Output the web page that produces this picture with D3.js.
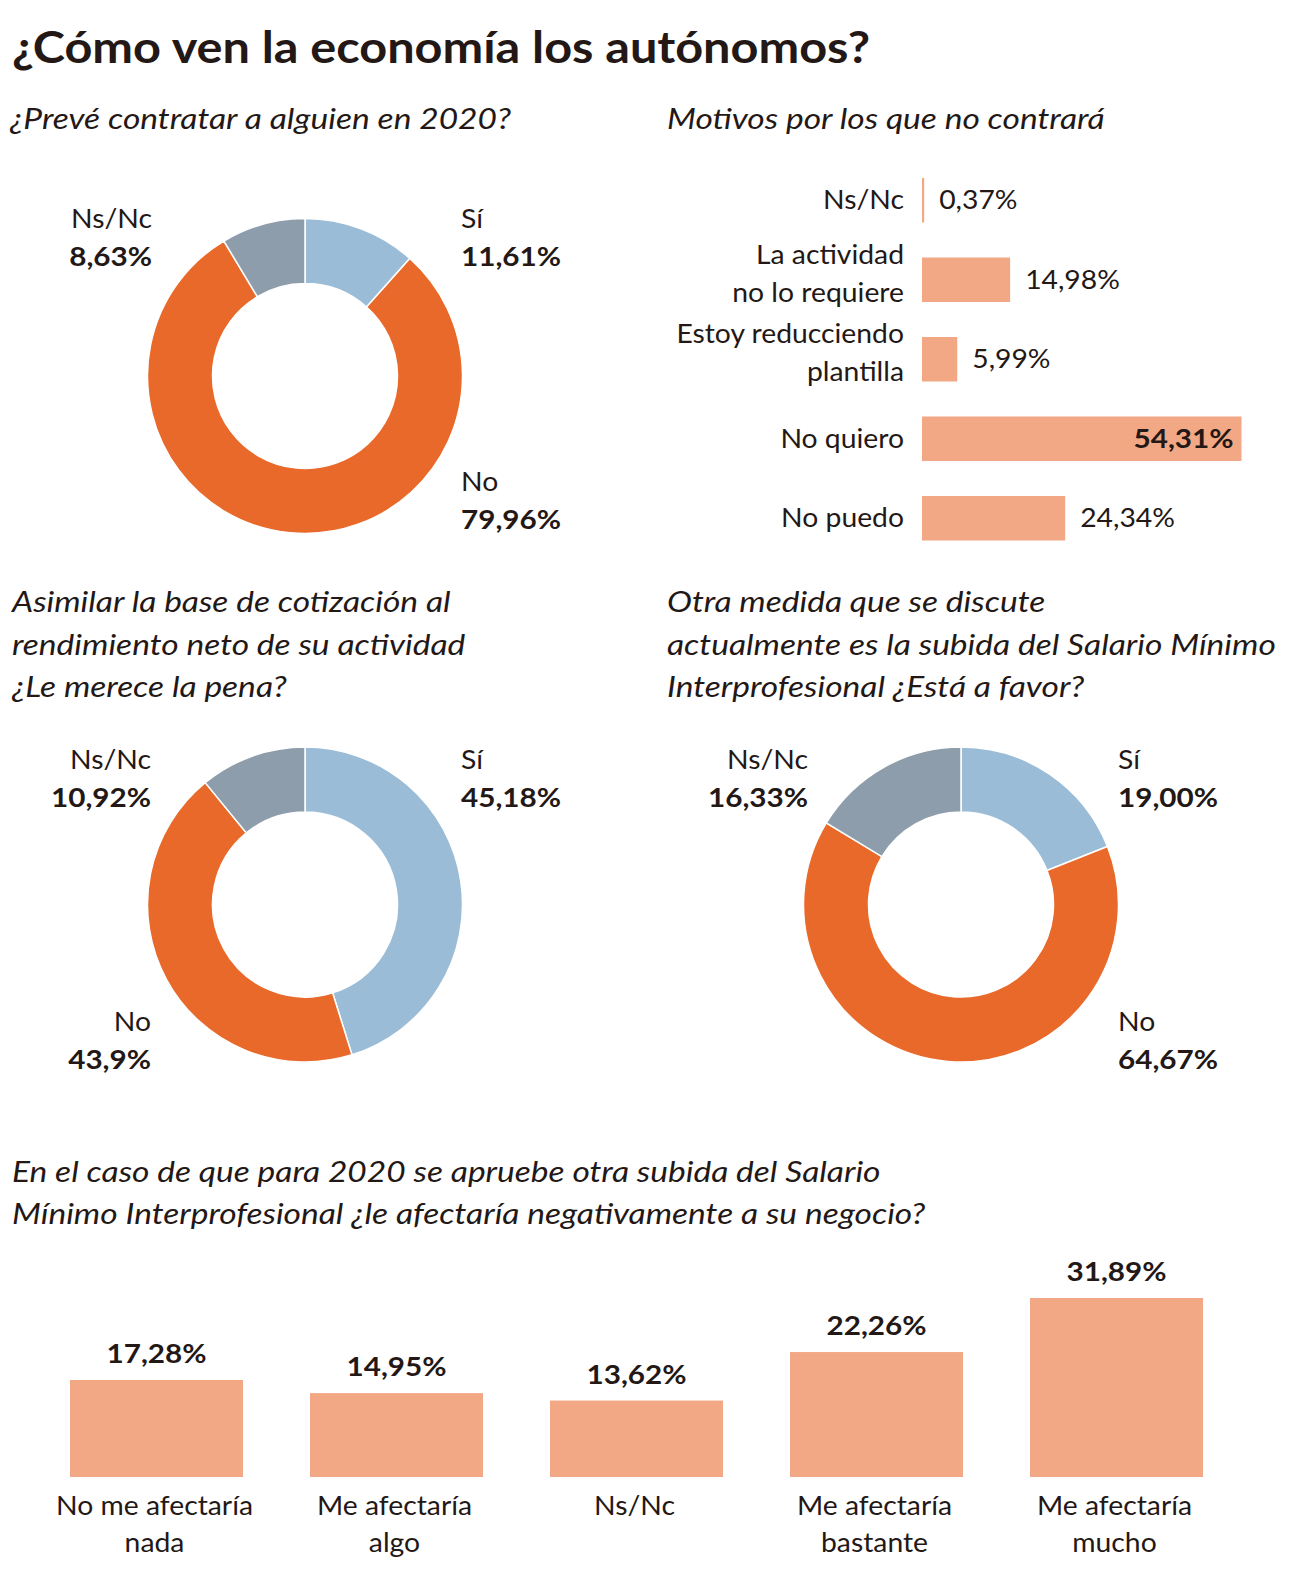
<!DOCTYPE html>
<html><head><meta charset="utf-8">
<script src="https://cdn.jsdelivr.net/npm/d3@7"></script>
<style>
body{margin:0;background:#fff}
svg{display:block}
text{font-family:Lato,"Noto Sans",sans-serif;fill:#231815}
</style>
</head><body>
<svg id="c" width="1292" height="1585"></svg>
<script>
// ---------- DATA ----------
const donutCategories = ["Sí", "No", "Ns/Nc"];
const donut1Values = [11.61, 79.96, 8.63];
const donut1Labels = ["11,61%", "79,96%", "8,63%"];
const donut2Values = [45.18, 43.9, 10.92];
const donut2Labels = ["45,18%", "43,9%", "10,92%"];
const donut3Values = [19.00, 64.67, 16.33];
const donut3Labels = ["19,00%", "64,67%", "16,33%"];

const motivoCategories = [["Ns/Nc"], ["La actividad", "no lo requiere"], ["Estoy reducciendo", "plantilla"], ["No quiero"], ["No puedo"]];
const motivoValues = [0.37, 14.98, 5.99, 54.31, 24.34];
const motivoLabels = ["0,37%", "14,98%", "5,99%", "54,31%", "24,34%"];

const afectaCategories = [["No me afectaría", "nada"], ["Me afectaría", "algo"], ["Ns/Nc"], ["Me afectaría", "bastante"], ["Me afectaría", "mucho"]];
const afectaValues = [17.28, 14.95, 13.62, 22.26, 31.89];
const afectaLabels = ["17,28%", "14,95%", "13,62%", "22,26%", "31,89%"];

const titleText = "¿Cómo ven la economía los autónomos?";
const q1 = ["¿Prevé contratar a alguien en 2020?"];
const q2 = ["Motivos por los que no contrará"];
const q3 = ["Asimilar la base de cotización al", "rendimiento neto de su actividad", "¿Le merece la pena?"];
const q4 = ["Otra medida que se discute", "actualmente es la subida del Salario Mínimo", "Interprofesional ¿Está a favor?"];
const q5 = ["En el caso de que para 2020 se apruebe otra subida del Salario", "Mínimo Interprofesional ¿le afectaría negativamente a su negocio?"];

// ---------- STYLE ----------
const colors = {"Sí": "#9bbcd6", "No": "#e8692a", "Ns/Nc": "#8e9dac"};
const barColor = "#f3a885";
const FS = 27.5;
const FSI = 28.5;

const svg = d3.select("#c");

function txt(g, x, y, s, cls, anchor) {
  return g.append("text").attr("x", x).attr("y", y).attr("class", cls)
    .attr("text-anchor", anchor || "start").text(s);
}
function styleCls() {
  svg.selectAll("text.title").attr("font-size", 44.5).attr("font-weight", 700);
  svg.selectAll("text.sub").attr("font-size", FSI).attr("font-style", "italic");
  svg.selectAll("text.lab").attr("font-size", FS).attr("font-weight", 400);
  svg.selectAll("text.val").attr("font-size", FS).attr("font-weight", 700);
}

// Title
txt(svg, 12, 63, titleText, "title");
// Questions
q1.forEach((s, i) => txt(svg, 10, 129, s, "sub ref-sub"));
q2.forEach((s, i) => txt(svg, 667, 129, s, "sub"));
q3.forEach((s, i) => txt(svg, 12, 612 + i * 42.5, s, "sub"));
q4.forEach((s, i) => txt(svg, 667, 612 + i * 42.5, s, "sub"));
q5.forEach((s, i) => txt(svg, 12, 1182 + i * 41.5, s, "sub"));

// ---------- DONUTS ----------
const pie = d3.pie().sort(null).value(d => d.v);
const arc = d3.arc().innerRadius(92.5).outerRadius(157.5);
const LH = 38;

function donut(cx, cy, values, labels, labelPos) {
  const data = donutCategories.map((c, i) => ({c, v: values[i], l: labels[i]}));
  const g = svg.append("g").attr("transform", `translate(${cx},${cy})`);
  g.selectAll("path").data(pie(data)).join("path")
    .attr("d", arc).attr("fill", d => colors[d.data.c])
    .attr("stroke", "#fff").attr("stroke-width", 1.5);
  data.forEach(d => {
    const p = labelPos[d.c];
    txt(svg, p[0], p[1], d.c, "lab", p[2]);
    txt(svg, p[0], p[1] + LH, d.l, "val", p[2]);
  });
}
donut(305, 376, donut1Values, donut1Labels, {
  "Ns/Nc": [152, 228, "end"], "Sí": [461, 228, "start"], "No": [461, 491, "start"]});
donut(305, 904.5, donut2Values, donut2Labels, {
  "Ns/Nc": [151, 769, "end"], "Sí": [461, 769, "start"], "No": [151, 1031, "end"]});
donut(961, 904.5, donut3Values, donut3Labels, {
  "Ns/Nc": [808, 769, "end"], "Sí": [1118, 769, "start"], "No": [1118, 1031, "start"]});

// ---------- HORIZONTAL BARS ----------
const hx = d3.scaleLinear().domain([0, 54.31]).range([922, 1241.5]);
const bandStep = 79.5, barH = 44.5;
const hy = d3.scaleBand().domain(d3.range(motivoValues.length))
  .range([178, 178 + bandStep * 5 - (bandStep - barH)])
  .paddingInner((bandStep - barH) / bandStep).paddingOuter(0).align(0);
const hmax = d3.max(motivoValues);
const hg = svg.append("g");
hg.selectAll("rect").data(motivoValues).join("rect")
  .attr("x", hx(0)).attr("y", (d, i) => hy(i))
  .attr("width", d => Math.max(1.5, hx(d) - hx(0))).attr("height", hy.bandwidth())
  .attr("fill", barColor);
motivoValues.forEach((v, i) => {
  const c = hy(i) + hy.bandwidth() / 2;
  const lines = motivoCategories[i];
  if (lines.length === 1) {
    txt(hg, 904, c + 9, lines[0], "lab", "end");
  } else {
    txt(hg, 904, c - 16, lines[0], "lab", "end");
    txt(hg, 904, c + 22, lines[1], "lab", "end");
  }
  if (v === hmax) {
    txt(hg, hx(v) - 8, c + 9, motivoLabels[i], "val", "end");
  } else {
    txt(hg, hx(Math.max(v, 0.25)) + 15, c + 9, motivoLabels[i], "lab", "start");
  }
});

// ---------- VERTICAL BARS ----------
const vStep = 240, vBarW = 173;
const vx = d3.scaleBand().domain(d3.range(afectaValues.length))
  .range([70, 70 + vStep * 5 - (vStep - vBarW)])
  .paddingInner((vStep - vBarW) / vStep).paddingOuter(0).align(0);
const vy = d3.scaleLinear().domain([0, 31.89]).range([1477, 1298]);
const vg = svg.append("g");
vg.selectAll("rect").data(afectaValues).join("rect")
  .attr("x", (d, i) => vx(i)).attr("y", d => vy(d))
  .attr("width", vx.bandwidth()).attr("height", d => vy(0) - vy(d))
  .attr("fill", barColor);
afectaValues.forEach((v, i) => {
  const cx = vx(i) + vx.bandwidth() / 2;
  txt(vg, cx, vy(v) - 17, afectaLabels[i], "val" + (i === 4 ? " ref-val" : ""), "middle");
  afectaCategories[i].forEach((s, j) => txt(vg, cx - 2, 1515 + j * 37, s, "lab" + (i === 0 && j === 0 ? " ref-lab" : ""), "middle"));
});

// ---------- CONDENSE TEXT TO MATCH REFERENCE FONT WIDTHS ----------
styleCls();
function factor(sel, target) { return target / sel.node().getComputedTextLength(); }
const kTitle = factor(svg.select("text.title"), 858);
const kSub = factor(svg.select("text.ref-sub"), 501);
const kLab = factor(svg.select("text.ref-lab"), 197);
const kVal = factor(svg.select("text.ref-val"), 100);
function condense(cls, k) {
  svg.selectAll("text." + cls).each(function () {
    const w = this.getComputedTextLength();
    this.setAttribute("textLength", (w * k).toFixed(1));
    this.setAttribute("lengthAdjust", "spacingAndGlyphs");
  });
}
condense("title", kTitle);
condense("sub", kSub);
condense("lab", kLab);
condense("val", kVal);
</script>
</body></html>
